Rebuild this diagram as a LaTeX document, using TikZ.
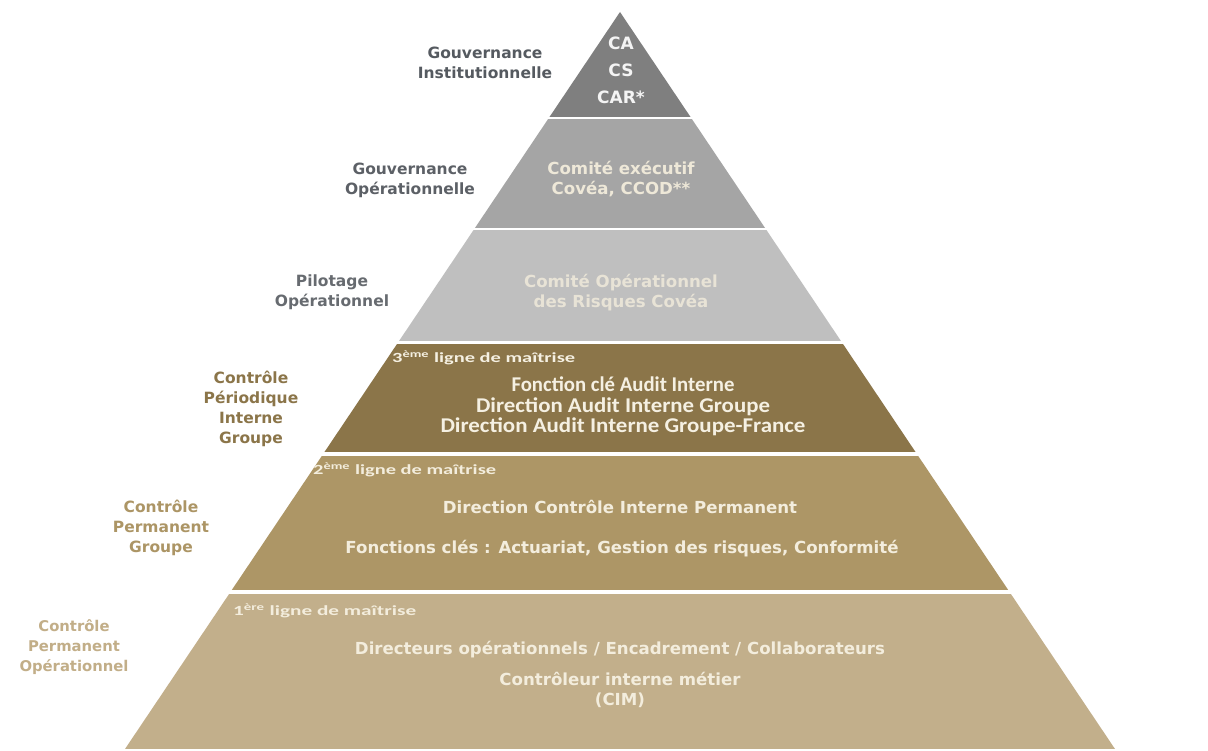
\documentclass[tikz,border=0pt]{standalone}
\usepackage{fontspec}
\usepackage{graphicx}
\setmainfont{DejaVu Sans}
\newfontfamily\calfont{Carlito}
\definecolor{c1}{HTML}{7F7F7F}
\definecolor{c2}{HTML}{A5A5A5}
\definecolor{c3}{HTML}{BFBFBF}
\definecolor{c4}{HTML}{8B7549}
\definecolor{c5}{HTML}{AD9666}
\definecolor{c6}{HTML}{C2AF8B}
\definecolor{g1}{HTML}{555A60}
\definecolor{g2}{HTML}{5C6066}
\definecolor{g3}{HTML}{676B70}
\definecolor{b4}{HTML}{8B7549}
\definecolor{b5}{HTML}{AC9565}
\definecolor{b6}{HTML}{C2AE88}
\definecolor{t1}{HTML}{F4F4F4}
\definecolor{t2}{HTML}{EEE8D8}
\definecolor{t3}{HTML}{E8E3D6}
\definecolor{t4}{HTML}{F5F0E2}
\definecolor{t5}{HTML}{F3EDDD}
\newcommand{\lgn}[1]{\resizebox{183pt}{\height}{#1}}
\newcommand{\fitw}[2]{\resizebox{#1pt}{\height}{#2}}
\begin{document}
\begin{tikzpicture}[x=1pt,y=-1pt,
  lab/.style={inner sep=0pt, align=center, font=\bfseries\fontsize{15.5}{20}\selectfont},
  inn/.style={inner sep=0pt, align=center, font=\bfseries\fontsize{16.6}{20}\selectfont},
  audit/.style={inner sep=0pt, align=center, text=t4, font=\calfont\bfseries\fontsize{21}{20.5}\selectfont},
  lignelab/.style={inner sep=0pt, anchor=west, font=\calfont\bfseries\fontsize{14}{16}\selectfont}]
\useasboundingbox (0,0) rectangle (1208,751);
\fill[white] (0,0) rectangle (1208,751);
\begin{scope}
\clip (620,12) -- (1115,749) -- (125,749) -- cycle;
\fill[c1] (0,0) rectangle (1208,117);
\fill[c2] (0,119) rectangle (1208,228);
\fill[c3] (0,230) rectangle (1208,341);
\fill[c4] (0,344) rectangle (1208,452);
\fill[c5] (0,456) rectangle (1208,590);
\fill[c6] (0,594) rectangle (1208,749);
\end{scope}
% left labels
\node[lab, text=g1] (gi) at (485,63) {Gouvernance\\Institutionnelle};
\node[lab, text=g2] (go) at (410,180) {Gouvernance\\Opérationnelle};
\node[lab, text=g3] (po) at (332,292) {Pilotage\\Opérationnel};
\node[lab, text=b4] (cpig) at (251,409) {Contrôle\\Périodique\\Interne\\Groupe};
\node[lab, text=b5] (cpg) at (161,528) {Contrôle\\Permanent\\Groupe};
\node[lab, text=b6, font=\bfseries\fontsize{14.8}{20}\selectfont] (cpo) at (74,647) {Contrôle\\Permanent\\Opérationnel};
% inner texts
\node[inn, text=t1, font=\bfseries\fontsize{17}{27}\selectfont] (ca) at (621,70) {CA\\CS\\CAR*};
\node[inn, text=t2] (ce) at (621,179) {Comité exécutif\\Covéa, CCOD**};
\node[inn, text=t3] (cor) at (621,293) {Comité Opérationnel\\des Risques Covéa};
\node[lignelab, text=t4] (l3) at (392,358) {\lgn{3\textsuperscript{ème} ligne de maîtrise}};
\node[audit] (fa) at (623,406.5) {\fitw{223}{Fonction clé Audit Interne}\\\fitw{294}{Direction Audit Interne Groupe}\\\fitw{365}{Direction Audit Interne Groupe-France}};
\node[lignelab, text=t5] (l2) at (313,470) {\lgn{2\textsuperscript{ème} ligne de maîtrise}};
\node[inn, text=t5] (dc) at (620,507) {Direction Contrôle Interne Permanent};
\node[inn, text=t5] (fc) at (622,549) {Fonctions clés : Actuariat, Gestion des risques, Conformité};
\node[lignelab, text=t5] (l1) at (233,611) {\lgn{1\textsuperscript{ère} ligne de maîtrise}};
\node[inn, text=t5] (de) at (620,650) {Directeurs opérationnels / Encadrement / Collaborateurs};
\node[inn, text=t5] (ci) at (620,690) {Contrôleur interne métier\\(CIM)};
\end{tikzpicture}
\end{document}
